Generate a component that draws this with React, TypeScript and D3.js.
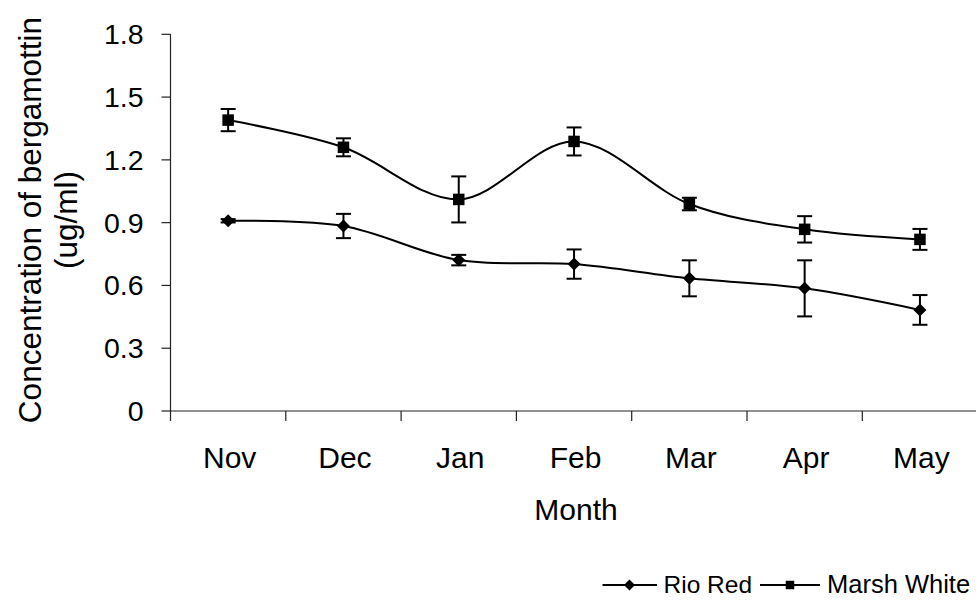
import React, { useEffect, useRef } from "react";
import * as d3 from "d3";

const months = ["Nov", "Dec", "Jan", "Feb", "Mar", "Apr", "May"];
const yTicks = [0, 0.3, 0.6, 0.9, 1.2, 1.5, 1.8];

const rioRed = [0.909, 0.884, 0.721, 0.702, 0.634, 0.586, 0.483];
const rioRedErr = [0.008, 0.058, 0.025, 0.07, 0.086, 0.134, 0.071];

const marshWhite = [1.39, 1.26, 1.011, 1.288, 0.989, 0.868, 0.82];
const marshWhiteErr = [0.053, 0.043, 0.11, 0.067, 0.03, 0.063, 0.05];

const FONT = "'Liberation Sans', Arial, sans-serif";

export default function App() {
  const ref = useRef<SVGSVGElement | null>(null);

  useEffect(() => {
    const svg = d3.select(ref.current);
    svg.selectAll("*").remove();

    const x0 = 170.5;
    const x1 = 977.6;
    const yTop = 34.3;
    const yBottom = 411;

    const x = d3.scaleBand<string>().domain(months).range([x0, x1]).paddingInner(0).paddingOuter(0);
    const cx = (m: string) => (x(m) as number) + x.bandwidth() / 2;
    const y = d3.scaleLinear().domain([0, 1.8]).range([yBottom, yTop]);

    const axisColor = "#222";

    // Y axis
    const gy = svg.append("g");
    gy.append("line")
      .attr("x1", x0).attr("x2", x0)
      .attr("y1", y(1.8)).attr("y2", y(0))
      .attr("stroke", axisColor).attr("stroke-width", 1.2);
    yTicks.forEach((t) => {
      gy.append("line")
        .attr("x1", x0 - 9).attr("x2", x0)
        .attr("y1", y(t)).attr("y2", y(t))
        .attr("stroke", axisColor).attr("stroke-width", 1.2);
      gy.append("text")
        .attr("x", 143.5).attr("y", y(t) + 10)
        .attr("text-anchor", "end")
        .attr("font-family", FONT).attr("font-size", 28.5)
        .attr("fill", "#000")
        .text(String(t));
    });

    // X axis
    const gx = svg.append("g");
    gx.append("line")
      .attr("x1", x0).attr("x2", 976)
      .attr("y1", yBottom).attr("y2", yBottom)
      .attr("stroke", axisColor).attr("stroke-width", 1.2);
    months.forEach((m) => {
      const bx = x(m) as number;
      gx.append("line")
        .attr("x1", bx).attr("x2", bx)
        .attr("y1", yBottom).attr("y2", yBottom + 10)
        .attr("stroke", axisColor).attr("stroke-width", 1.2);
      gx.append("text")
        .attr("x", cx(m) + 1.5).attr("y", 467.5)
        .attr("text-anchor", "middle")
        .attr("font-family", FONT).attr("font-size", 30)
        .attr("fill", "#000")
        .text(m);
    });

    // Axis titles
    svg.append("text")
      .attr("x", (x0 + x1) / 2 + 2).attr("y", 519.5)
      .attr("text-anchor", "middle")
      .attr("font-family", FONT).attr("font-size", 30)
      .text("Month");

    const yMid = 220;
    svg.append("text")
      .attr("transform", `translate(40.5,${yMid}) rotate(-90)`)
      .attr("text-anchor", "middle")
      .attr("font-family", FONT).attr("font-size", 31.5)
      .text("Concentration of bergamottin");
    svg.append("text")
      .attr("transform", `translate(77,${yMid}) rotate(-90)`)
      .attr("text-anchor", "middle")
      .attr("font-family", FONT).attr("font-size", 31.5)
      .text("(ug/ml)");

    const line = d3.line<number>()
      .x((_, i) => cx(months[i]))
      .y((v) => y(v))
      .curve(d3.curveCatmullRom.alpha(0));

    const diamond = (g: any, px: number, py: number, r: number) =>
      g.append("path")
        .attr("d", `M${px},${py - r}L${px + r},${py}L${px},${py + r}L${px - r},${py}Z`)
        .attr("fill", "#000");
    const square = (g: any, px: number, py: number, s: number) =>
      g.append("rect")
        .attr("x", px - s / 2).attr("y", py - s / 2)
        .attr("width", s).attr("height", s)
        .attr("fill", "#000");

    const drawSeries = (vals: number[], errs: number[], kind: "diamond" | "square") => {
      const g = svg.append("g");
      g.append("path")
        .attr("d", line(vals) as string)
        .attr("fill", "none")
        .attr("stroke", "#000")
        .attr("stroke-width", 2);
      vals.forEach((v, i) => {
        const px = cx(months[i]);
        const e = errs[i];
        const top = y(v + e);
        const bot = y(v - e);
        const cap = 7.5;
        g.append("line").attr("x1", px).attr("x2", px).attr("y1", top).attr("y2", bot)
          .attr("stroke", "#000").attr("stroke-width", 2);
        [top, bot].forEach((yy) => {
          g.append("line").attr("x1", px - cap).attr("x2", px + cap).attr("y1", yy).attr("y2", yy)
            .attr("stroke", "#000").attr("stroke-width", 2);
        });
        if (kind === "diamond") diamond(g, px, y(v), 6.5);
        else square(g, px, y(v), 11.5);
      });
    };

    drawSeries(rioRed, rioRedErr, "diamond");
    drawSeries(marshWhite, marshWhiteErr, "square");

    // Legend
    const lg = svg.append("g");
    const ly = 585;
    lg.append("line").attr("x1", 602.5).attr("x2", 657).attr("y1", ly).attr("y2", ly)
      .attr("stroke", "#000").attr("stroke-width", 2);
    diamond(lg, 629.5, ly, 5.5);
    lg.append("text").attr("x", 663.5).attr("y", 592.5)
      .attr("font-family", FONT).attr("font-size", 24.5).text("Rio Red");
    lg.append("line").attr("x1", 760).attr("x2", 820).attr("y1", ly).attr("y2", ly)
      .attr("stroke", "#000").attr("stroke-width", 2);
    square(lg, 790, ly, 8.5);
    lg.append("text").attr("x", 827).attr("y", 592.5)
      .attr("font-family", FONT).attr("font-size", 25.5).text("Marsh White");
  }, []);

  return (
    <svg
      ref={ref}
      width={976}
      height={600}
      style={{ position: "absolute", left: 0, top: 0, background: "#fff", display: "block" }}
    />
  );
}
